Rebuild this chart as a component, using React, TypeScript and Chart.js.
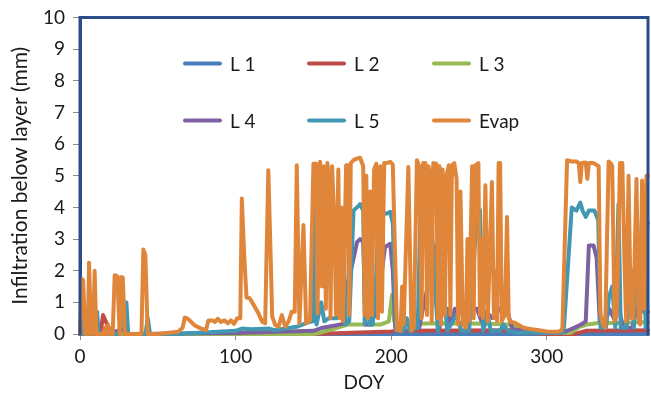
import React, { useEffect, useRef } from "react";
import { Chart, registerables } from "chart.js";

Chart.register(...registerables);

const seriesNames = ["L 1", "L 2", "L 3", "L 4", "L 5", "Evap"];
const seriesColors = ["#4A7EBB", "#BE4B48", "#98B954", "#7D60A0", "#4298B2", "#E0863A"];

const xTickValues = [0, 100, 200, 300];
const yMin = 0;
const yMax = 10;
const xMin = 0;
const xMax = 365;

const l1Points: [number, number][] = [
  [0, 0], [365, 0],
];

const l2Points: [number, number][] = [
  [0, 0], [12, 0], [13.6, 0.15], [14.8, 0.6], [17, 0.35], [19, 0.15], [20, 0], [150, 0], [180, 0.05],
  [200, 0.08], [205, 0.1], [280, 0.12], [285, 0.05], [300, 0], [318, 0], [325, 0.1], [365, 0.12],
];

const l3Points: [number, number][] = [
  [0, 0], [10, 0], [12, 0.08], [14, 0], [150, 0], [155, 0.05], [162, 0.15], [172, 0.3], [185, 0.3],
  [193, 0.3], [198.5, 0.4], [200.5, 1.23], [202, 0.4], [204, 0.3], [210, 0.3], [222, 0.33], [240, 0.34],
  [260, 0.32], [275, 0.3], [281, 0.2], [289, 0.15], [300, 0.05], [315, 0.03], [321, 0.23], [326, 0.3],
  [333, 0.35], [345, 0.35], [365, 0.38],
];

const l4Points: [number, number][] = [
  [0, 0], [8, 0], [15, 0.05], [17, 0], [28, 0.15], [30, 0], [100, 0.03], [110, 0.05], [150, 0.1],
  [156, 0.2], [165, 0.28], [169, 0.32], [170, 1.2], [175, 2.2], [178, 2.9], [180, 3.0], [182, 2.9],
  [183.5, 0.3], [187, 0.3], [190.5, 0.75], [192.5, 1.4], [196, 2.75], [199.4, 2.85], [201, 2.0],
  [202.5, 0.2], [210, 0.1], [218, 0.2], [220, 0.7], [223, 1.4], [225.5, 2.6], [227, 2.8], [229, 2.8],
  [230, 1.5], [231, 0.2], [233, 0.8], [236, 0.8], [238, 0.3], [241, 0.8], [245, 0.75], [248, 0.3],
  [250, 0.8], [255, 0.8], [258, 0.4], [261, 0.7], [265, 0.5], [270, 0.8], [274, 0.8], [278, 0.15],
  [285, 0.1], [300, 0.05], [310, 0.05], [315, 0.14], [322, 0.3], [325, 0.4], [327, 2.8], [330, 2.8],
  [332, 2.4], [334, 0.4], [337, 0.2], [340, 0.8], [343, 0.5], [346, 0.9], [349, 0.2], [355, 0.2],
  [358, 0.85], [361, 0.8], [364, 0.6], [365, 0.7],
];

const l5Points: [number, number][] = [
  [0, 0], [1, 0.9], [2, 0], [6, 0], [7.3, 1.0], [8.5, 0], [11, 0.7], [12, 0], [25, 0], [27, 0.4],
  [29.8, 1.0], [31, 0], [42, 0], [43.6, 0.5], [45, 0], [60, 0], [80, 0.05], [100, 0.1], [104, 0.17],
  [110, 0.15], [121.6, 0.17], [125, 0.12], [140, 0.24], [148, 0.39], [150, 0.4], [151, 4.0], [152, 0.3],
  [155, 1.0], [157, 0.4], [160, 0.5], [165, 0.5], [167, 0.6], [169.3, 3.96], [170.5, 0.3], [173, 0.4],
  [175.8, 3.9], [178, 4.0], [180, 4.1], [182, 3.9], [183, 0.3], [185, 3.2], [186, 0.3], [188, 0.3],
  [190, 1.5], [192, 3.8], [194, 3.86], [197, 3.8], [199.4, 3.86], [201, 3.5], [203, 0.1], [208, 0.1],
  [210, 0.5], [212, 0.1], [217, 0.2], [218.6, 3.5], [220, 3.7], [223, 3.9], [224.5, 3.8], [225.6, 3.7],
  [227, 2.5], [228.5, 1.2], [230, 0.1], [234, 1.2], [236, 0.1], [242, 0.6], [245, 0.1], [250, 0.1],
  [252, 1.5], [254, 3.0], [256, 3.7], [257, 3.93], [258, 2.0], [259, 0.1], [262, 0.6], [264, 0.1],
  [270, 0.1], [272, 0.3], [275, 0.1], [280, 0.05], [300, 0.03], [310, 0.05], [311, 0.2], [316, 4.0],
  [319, 3.9], [321.5, 4.15], [323, 3.9], [325, 3.7], [327, 3.9], [330.5, 3.9], [333, 3.6], [334.5, 0.2],
  [338, 0.2], [340, 1.2], [342, 1.5], [344, 0.2], [346, 4.1], [347.5, 0.2], [351, 0.2], [355, 2.0],
  [356, 0.2], [358, 3.6], [359.5, 1.5], [361, 3.0], [362, 4.0], [363.5, 0.2], [364.5, 3.5], [365, 3.5],
];

const evapPoints: [number, number][] = [
  [0, 0], [1, 1.75], [2, 1.7], [3.4, 0], [5, 0], [5.8, 2.25], [7.2, 0], [8.5, 0], [9.4, 2.0], [10.5, 0],
  [15, 0], [16, 0.2], [17, 0], [18, 0.3], [19, 0], [21, 0], [22.3, 1.86], [24, 1.82], [25.5, 0],
  [26.5, 1.8], [27.5, 1.78], [28.8, 0], [39.5, 0], [40.7, 2.67], [42, 2.5], [43.5, 0], [50, 0],
  [63, 0.07], [66, 0.2], [67.3, 0.52], [69.4, 0.48], [73.7, 0.27], [78, 0.17], [81, 0.12], [82.5, 0.43],
  [85.3, 0.43], [86.8, 0.38], [88.5, 0.48], [90.6, 0.38], [92.8, 0.43], [95, 0.34], [97, 0.43],
  [99, 0.32], [101, 0.5], [103, 0.5], [104, 4.28], [105.5, 2.5], [107, 1.15], [109, 1.13], [111, 0.97],
  [114.7, 0.65], [117, 0.39], [119, 0.34], [121, 5.17], [122.5, 2.5], [123.5, 0.55], [125.5, 0.28],
  [127.6, 0.23], [129.7, 0.6], [131.8, 0.23], [134, 0.39], [136, 0.7], [138, 0.7], [139.3, 5.33],
  [141, 0.34], [143.6, 3.44], [145.3, 0.34], [147.8, 0.44], [150, 5.38], [151.8, 5.38], [152.6, 0.65],
  [154.3, 5.44], [155.5, 1.5], [156.5, 5.3], [158, 0.8], [159, 5.4], [160, 4.8], [161, 0.5], [162, 5.3],
  [163.5, 3.5], [164.5, 0.6], [166, 5.2], [167, 0.5], [168, 4.0], [169, 0.4], [171, 5.33], [172, 5.33],
  [173, 0.6], [174, 5.4], [176, 5.5], [178, 5.54], [180, 5.57], [182, 5.3], [183, 0.6], [184, 5.0],
  [185, 0.5], [186.5, 4.5], [187.5, 0.6], [189, 5.2], [190.4, 5.38], [191.5, 0.5], [193, 5.3],
  [194, 0.7], [195.5, 5.4], [197, 5.4], [199.4, 5.44], [201, 5.35], [203.7, 0.13], [206, 0.1],
  [207, 1.5], [208, 0.3], [211, 5.28], [213, 0.1], [214.5, 0.2], [216.5, 5.49], [218, 5.3], [219.5, 0.5],
  [220.5, 5.4], [222, 5.4], [223, 0.6], [224, 5.3], [225, 5.0], [226, 0.4], [227, 5.4], [229, 5.38],
  [230, 0.5], [231, 5.3], [232, 0.3], [233, 5.2], [234.5, 0.6], [235.5, 5.0], [237, 5.33], [238, 0.6],
  [239, 5.33], [240.5, 5.4], [242, 4.9], [243, 0.3], [244.5, 4.5], [246, 0.3], [248, 0.2], [249, 3.0],
  [250, 0.4], [252, 5.3], [253, 0.5], [254, 5.33], [256, 5.4], [257, 0.6], [258, 3.0], [259, 0.5],
  [260.5, 4.7], [262, 0.4], [264.7, 4.8], [266, 0.5], [267.5, 2.0], [268, 0.4], [269, 5.4], [270, 5.4],
  [271, 0.4], [273, 0.6], [274.4, 3.7], [275.5, 0.5], [276.5, 0.39], [279.7, 0.35], [285, 0.2],
  [290, 0.15], [295, 0.12], [300, 0.08], [306.5, 0.07], [309, 0.1], [310, 0.2], [313, 5.49], [316, 5.45],
  [319, 5.45], [320.5, 5.4], [321.5, 4.8], [322.5, 5.4], [325, 5.42], [326, 4.9], [327, 5.4], [330, 5.4],
  [333.3, 5.3], [334.4, 0.65], [336, 0.3], [337.5, 0.2], [339.7, 5.45], [341, 5.4], [342, 5.3],
  [343.5, 0.4], [345, 0.6], [347, 5.4], [348.5, 5.4], [350, 2.0], [351, 0.4], [352.5, 5.0], [354, 0.5],
  [355.5, 0.5], [357.6, 4.9], [359, 0.5], [360, 0.3], [361.2, 4.85], [362.5, 0.8], [364, 5.0], [365, 5.0],
];

const allPoints = [l1Points, l2Points, l3Points, l4Points, l5Points, evapPoints];

const FONT = "Lato, 'Open Sans', 'DejaVu Sans', sans-serif";
const TEXT_COLOR = "#1a1a1a";
const FRAME_COLOR = "#2C4D87";
const TICK_COLOR = "#8c8c8c";

const legendPlugin = {
  id: "insideLegend",
  afterDraw(chart: any) {
    const { ctx, chartArea } = chart;
    const colX = [105, 229, 354];
    const rowY = [46, 103];
    ctx.save();
    ctx.font = `19px ${FONT}`;
    ctx.textBaseline = "middle";
    ctx.textAlign = "left";
    seriesNames.forEach((name, i) => {
      const col = i % 3;
      const row = Math.floor(i / 3);
      const x = chartArea.left + colX[col];
      const y = chartArea.top + rowY[row];
      ctx.strokeStyle = seriesColors[i];
      ctx.lineWidth = 4;
      ctx.lineCap = "round";
      ctx.beginPath();
      ctx.moveTo(x, y);
      ctx.lineTo(x + 35, y);
      ctx.stroke();
      ctx.fillStyle = TEXT_COLOR;
      ctx.fillText(name, x + 45, y + 1);
    });
    ctx.restore();
  },
};

const framePlugin = {
  id: "frame",
  afterDatasetsDraw(chart: any) {
    const { ctx, chartArea } = chart;
    ctx.save();
    ctx.strokeStyle = FRAME_COLOR;
    ctx.lineWidth = 3;
    ctx.lineCap = "square";
    ctx.beginPath();
    ctx.moveTo(chartArea.left, chartArea.bottom);
    ctx.lineTo(chartArea.left, chartArea.top);
    ctx.lineTo(chartArea.right, chartArea.top);
    ctx.lineTo(chartArea.right, chartArea.bottom);
    ctx.stroke();
    ctx.restore();
  },
};

export default function App() {
  const canvasRef = useRef<HTMLCanvasElement | null>(null);

  useEffect(() => {
    if (!canvasRef.current) return;
    const order = [5, 4, 3, 2, 1, 0];
    const datasets = order.map((i) => ({
      label: seriesNames[i],
      data: allPoints[i].map(([x, y]) => ({ x, y })),
      borderColor: seriesColors[i],
      backgroundColor: seriesColors[i],
      borderWidth: 4,
      pointRadius: 0,
      tension: 0,
      borderJoinStyle: "round" as const,
      borderCapStyle: "round" as const,
      clip: 6,
    }));
    const chart = new Chart(canvasRef.current, {
      type: "line",
      data: { datasets },
      plugins: [framePlugin, legendPlugin],
      options: {
        responsive: false,
        animation: false,
        parsing: false as any,
        layout: { padding: { left: 0, top: 17, right: 3, bottom: 0 } },
        plugins: { legend: { display: false }, tooltip: { enabled: false } },
        scales: {
          x: {
            type: "linear",
            min: xMin,
            max: xMax,
            afterBuildTicks: (s: any) => {
              s.ticks = xTickValues.map((v) => ({ value: v }));
            },
            afterFit: (s: any) => {
              s.height = 70;
            },
            grid: { drawOnChartArea: false, drawTicks: true, tickLength: 6, color: TICK_COLOR },
            border: { display: true, color: TICK_COLOR, width: 1 },
            ticks: { color: TEXT_COLOR, font: { family: FONT, size: 19 }, padding: 5, maxRotation: 0 },
            title: {
              display: true,
              text: "DOY",
              color: TEXT_COLOR,
              font: { family: FONT, size: 19 },
              padding: { top: 0, bottom: 10 },
            },
          },
          y: {
            type: "linear",
            min: yMin,
            max: yMax,
            afterFit: (s: any) => {
              s.width = 80;
            },
            grid: { drawOnChartArea: false, drawTicks: true, tickLength: 7, color: TICK_COLOR },
            border: { display: true, color: FRAME_COLOR, width: 3 },
            ticks: {
              stepSize: 1,
              color: TEXT_COLOR,
              font: { family: FONT, size: 19, lineHeight: 1 },
              padding: 8,
            },
            title: {
              display: true,
              text: "Infiltration below layer (mm)",
              color: TEXT_COLOR,
              font: { family: FONT, size: 21 },
              padding: { top: 8, bottom: 0 },
            },
          },
        },
      },
    });
    return () => chart.destroy();
  }, []);

  return (
    <div style={{ position: "fixed", left: 0, top: 0, width: 651, height: 404, background: "#fff" }}>
      <canvas ref={canvasRef} width={651} height={404} style={{ width: 651, height: 404 }} />
    </div>
  );
}
